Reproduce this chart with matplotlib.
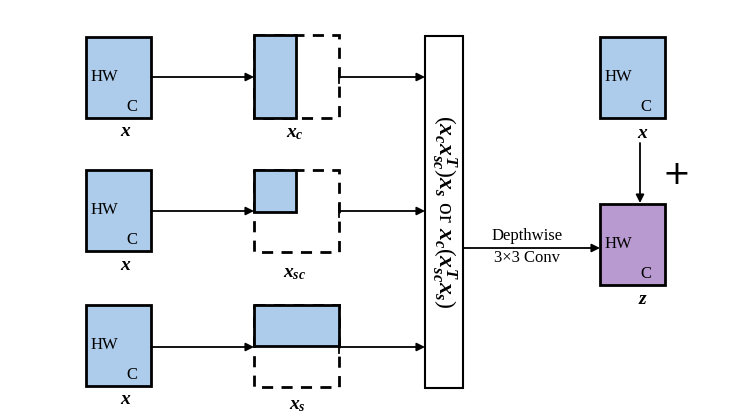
import matplotlib
matplotlib.use('Agg')
import matplotlib.pyplot as plt
from matplotlib.patches import Rectangle

plt.rcParams['mathtext.fontset'] = 'custom'
plt.rcParams['mathtext.it'] = 'Liberation Serif:italic:bold'
plt.rcParams['mathtext.rm'] = 'Liberation Serif'
plt.rcParams['mathtext.bf'] = 'Liberation Serif:bold'

BLUE = '#adcbea'
PURPLE = '#b89ad1'
SERIF = 'Liberation Serif'

# rows: y top of input box, label for split
row_tops = [37, 170, 305]
split_labels = [r'$x_c$', r'$x_{sc}$', r'$x_s$']
arrow_ys = [77, 211, 347]

fig = plt.figure(figsize=(7.49, 4.13), dpi=100)
ax = fig.add_axes([0, 0, 1, 1])
ax.set_xlim(0, 749)
ax.set_ylim(413, 0)
ax.axis('off')


def box(x0, y0, x1, y1, fc=BLUE, ls='-', lw=2):
    ax.add_patch(Rectangle((x0, y0), x1 - x0, y1 - y0, fc=fc, ec='black', lw=lw, ls=ls))


def arrow(x0, y0, x1, y1):
    ax.annotate('', xy=(x1, y1), xytext=(x0, y0),
                arrowprops=dict(arrowstyle='-|>', color='black', lw=1.3, mutation_scale=12,
                                shrinkA=0, shrinkB=0))


def hw_box(x0, y0, fc=BLUE):
    box(x0, y0, x0 + 65, y0 + 81, fc=fc)
    ax.text(x0 + 5, y0 + 40, 'HW', family=SERIF, fontsize=12, va='center')
    ax.text(x0 + 40, y0 + 70, 'C', family=SERIF, fontsize=12, va='center')


for i, top in enumerate(row_tops):
    hw_box(86, top)
    ax.text(126, top + 94, r'$x$', fontsize=14, ha='center', va='center')
    ay = arrow_ys[i]
    arrow(151, ay, 254, ay)
    arrow(339, ay, 425, ay)
    ax.plot([339, 339], [ay - 6, ay + 6], color='black', lw=1.3)

# x_c: half width
box(254, 35, 339, 118, fc='none', ls=(0, (4, 3)))
box(254, 35, 296, 118)
# x_sc: quarter
box(254, 170, 339, 252, fc='none', ls=(0, (4, 3)))
box(254, 170, 296, 212)
# x_s: half height
box(254, 305, 339, 387, fc='none', ls=(0, (4, 3)))
box(254, 305, 339, 346)

label_pos = [(295, 133), (295, 272), (297, 404)]
for (lx, ly), lab in zip(label_pos, split_labels):
    ax.text(lx, ly, lab, fontsize=14, ha='center', va='center')

# tall attention box
box(425, 36, 463, 388, fc='white', lw=1.5)
ax.text(444, 212, r'$(x_c x_{sc}^T) x_s\ \mathrm{or}\ x_c(x_{sc}^T x_s)$',
        fontsize=17, rotation=-90, ha='center', va='center')

arrow(463, 248, 600, 248)
ax.text(527, 236, 'Depthwise', family=SERIF, fontsize=12, ha='center', va='center')
ax.text(527, 258, '3\u00d73 Conv', family=SERIF, fontsize=12, ha='center', va='center')

# residual
hw_box(600, 37)
ax.text(643, 132, r'$x$', fontsize=14, ha='center', va='center')
arrow(640, 143, 640, 203)
ax.text(676, 174, '+', family='DejaVu Sans', fontsize=24, ha='center', va='center')
hw_box(600, 204, fc=PURPLE)
ax.text(643, 298, r'$z$', fontsize=14, ha='center', va='center')

fig.savefig('out.png', dpi=100, facecolor='white')
